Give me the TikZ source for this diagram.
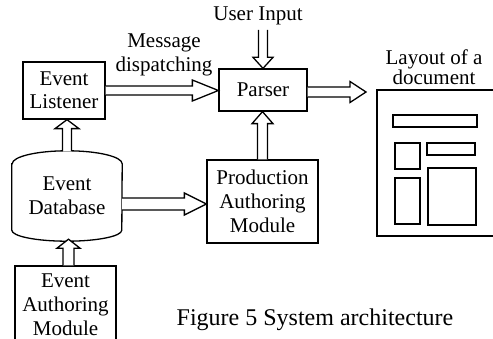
\documentclass[tikz,border=0pt]{standalone}
\usepackage{fontspec}
\setmainfont{Liberation Serif}
\usetikzlibrary{calc}
\tikzset{
  boxnode/.style={draw, line width=1.3pt, align=center, inner sep=0pt, font=\fontsize{21}{24}\selectfont},
  lbl/.style={align=center, inner sep=0pt, font=\fontsize{21}{24}\selectfont},
  barrow/.style={draw, line width=1.3pt, fill=white, line join=miter},
  docbox/.style={draw, line width=1.5pt},
}
% rightward block arrow: start, tip, shaft half-width, head half-width, head length
\newcommand\BArrR[5]{\draw[barrow] ($(#1)+(0,-#3)$) -- ($(#2)+(-#5,-#3)$) -- ($(#2)+(-#5,-#4)$) -- (#2) -- ($(#2)+(-#5,#4)$) -- ($(#2)+(-#5,#3)$) -- ($(#1)+(0,#3)$);}
% upward block arrow (tip above start)
\newcommand\BArrU[5]{\draw[barrow] ($(#1)+(-#3,0)$) -- ($(#2)+(-#3,#5)$) -- ($(#2)+(-#4,#5)$) -- (#2) -- ($(#2)+(#4,#5)$) -- ($(#2)+(#3,#5)$) -- ($(#1)+(#3,0)$);}
% downward block arrow (tip below start)
\newcommand\BArrD[5]{\draw[barrow] ($(#1)+(-#3,0)$) -- ($(#2)+(-#3,-#5)$) -- ($(#2)+(-#4,-#5)$) -- (#2) -- ($(#2)+(#4,-#5)$) -- ($(#2)+(#3,-#5)$) -- ($(#1)+(#3,0)$);}
\begin{document}
\begin{tikzpicture}[x=1pt,y=-1pt]
\clip (0,0) rectangle (493,339);
\fill[white] (0,0) rectangle (493,339);

% nodes
\node[boxnode, minimum width=82pt, minimum height=57pt, font=\fontsize{21}{23}\selectfont] (el) at (64,90.5) {Event\\Listener};
\node[boxnode, minimum width=88pt, minimum height=42pt] (parser) at (263,90) {Parser};
\node[boxnode, minimum width=111pt, minimum height=83pt] (prod) at (262.5,201.5) {Production\\Authoring\\Module};
\node[boxnode, minimum width=101pt, minimum height=78pt] (ea) at (65.5,305) {Event\\Authoring\\Module};
\node[lbl, minimum width=110pt, minimum height=90pt] (db) at (67,196) {Event\\Database};

% cylinder
\draw[line width=1.3pt] ($(db.north west)+(0,13)$) -- ($(db.south west)+(0,-11)$)
  arc[start angle=180, end angle=0, x radius=55, y radius=11]
  -- ($(db.north east)+(0,13)$)
  arc[start angle=0, end angle=-180, x radius=55, y radius=13] -- cycle;

% labels
\node[lbl] (ui) at (258,16) {User Input};
\node[lbl] (msg) at (164,55) {Message\\dispatching};
\node[lbl, font=\fontsize{21}{19}\selectfont] (laytxt) at (434,67.5) {Layout of a\\document};
\node[lbl, font=\fontsize{24}{28}\selectfont] (cap) at (315,320) {Figure 5 System architecture};

% document layout
\node[minimum width=140pt, minimum height=146pt, inner sep=0pt] (lay) at (447,163) {};
\draw[line width=1.8pt] (lay.north east) -- (lay.north west) -- (lay.south west) -- (lay.south east);
\draw[docbox] (393,115) rectangle (477,127);
\draw[docbox] (395,143) rectangle (420,169);
\draw[docbox] (427,143) rectangle (475,155);
\draw[docbox] (395,178) rectangle (420,224);
\draw[docbox] (428,168) rectangle (476,225);

% coordinates
\coordinate (p1) at (parser.west |- el.east);
\coordinate (layin) at (366,92);
\coordinate (p2) at (parser.east |- layin);
\coordinate (uis) at (263,30);
\coordinate (p3) at (parser.north -| uis);
\coordinate (p4) at (parser.south -| prod.north);
\coordinate (p5) at (el.south -| db.north);
\coordinate (a6s) at ($(ea.north)+(3,0)$);
\coordinate (p6) at ($(a6s |- db.south)+(0,-2)$);
\coordinate (a7s) at ($(db.east)+(0,8)$);
\coordinate (p7) at (prod.west |- a7s);

% arrows
\BArrR{el.east}{p1}{4.5}{10.5}{26}
\BArrR{p2}{layin}{5}{10.5}{16}
\BArrD{uis}{p3}{4.5}{10}{11}
\BArrU{prod.north}{p4}{5}{10.5}{12}
\BArrU{db.north}{p5}{4.5}{12}{9}
\BArrU{a6s}{p6}{5.5}{11.5}{9}
\BArrR{a7s}{p7}{6}{11}{22}
\end{tikzpicture}
\end{document}
